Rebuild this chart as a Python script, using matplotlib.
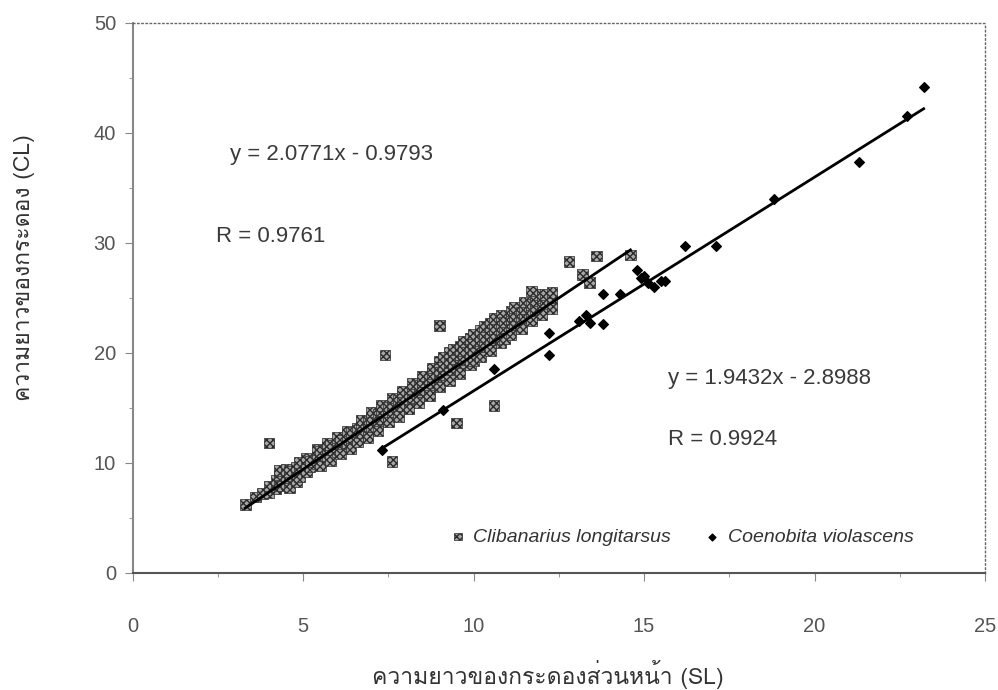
import numpy as np
import matplotlib
matplotlib.use('Agg')
import matplotlib.pyplot as plt
from matplotlib import font_manager
from matplotlib.ft2font import FT2Font
from matplotlib.ticker import MultipleLocator

# Clibanarius longitarsus: shield length (SL) vs carapace length (CL)
cl_x = [3.3, 3.6, 3.8, 4.0, 4.0, 4.2, 4.2, 4.3, 4.3, 4.3,
        4.5, 4.5, 4.5, 4.6, 4.6, 4.6, 4.8, 4.8, 4.8, 4.9, 4.9, 4.9,
        5.1, 5.1, 5.1, 5.2, 5.2, 5.4, 5.4, 5.4, 5.5, 5.5, 5.5,
        5.7, 5.7, 5.7, 5.8, 5.8, 5.8, 6.0, 6.0, 6.0, 6.1, 6.1, 6.1,
        6.3, 6.3, 6.3, 6.4, 6.4, 6.4, 6.6, 6.6, 6.6, 6.7, 6.7, 6.7,
        6.9, 6.9, 6.9, 7.0, 7.0, 7.0, 7.2, 7.2, 7.2, 7.3, 7.3, 7.3,
        7.5, 7.5, 7.5, 7.6, 7.6, 7.6, 7.8, 7.8, 7.8, 7.9, 7.9, 7.9,
        8.1, 8.1, 8.1, 8.2, 8.2, 8.2, 8.4, 8.4, 8.4, 8.5, 8.5, 8.5,
        8.7, 8.7, 8.7, 8.8, 8.8, 8.8, 9.0, 9.0, 9.0, 9.0, 9.1, 9.1, 9.1,
        9.3, 9.3, 9.3, 9.3, 9.4, 9.4, 9.4, 9.6, 9.6, 9.6, 9.6, 9.7, 9.7, 9.7,
        9.9, 9.9, 9.9, 9.9, 10.0, 10.0, 10.0, 10.0, 10.2, 10.2, 10.2, 10.2,
        10.3, 10.3, 10.3, 10.5, 10.5, 10.5, 10.5, 10.6, 10.6, 10.6,
        10.8, 10.8, 10.8, 10.8, 10.9, 10.9, 10.9, 11.1, 11.1, 11.1, 11.1,
        11.2, 11.2, 11.2, 11.4, 11.4, 11.4, 11.5, 11.5, 11.5, 11.7, 11.7, 11.7,
        11.8, 11.8, 11.8, 12.0, 12.0, 12.0, 12.1, 12.1, 12.3, 12.3, 12.3,
        4.0, 7.4, 7.6, 9.0, 9.5, 10.6, 11.7, 12.8, 13.6, 14.6, 13.2, 13.4]
cl_y = [6.2, 6.9, 7.2, 7.3, 7.9, 7.6, 8.4, 7.9, 8.9, 9.3,
        8.1, 8.6, 9.4, 8.8, 9.2, 7.7, 9.0, 9.6, 8.3, 9.3, 10.0, 8.7,
        9.2, 9.8, 10.4, 9.6, 10.1, 9.9, 10.5, 11.2, 10.3, 11.0, 9.7,
        10.6, 11.4, 11.8, 10.9, 11.6, 10.2, 11.0, 11.7, 12.3, 11.4, 12.0, 10.8,
        11.8, 12.4, 12.9, 12.0, 12.8, 11.3, 12.4, 13.1, 11.9, 12.7, 13.4, 13.9,
        13.0, 13.8, 12.3, 13.3, 14.0, 14.6, 13.6, 14.4, 12.9, 14.0, 14.7, 15.2,
        14.3, 15.0, 13.7, 14.6, 15.3, 15.9, 14.9, 15.7, 14.2, 15.2, 16.0, 16.5,
        15.6, 16.3, 14.9, 15.9, 16.7, 17.2, 16.2, 17.0, 15.5, 16.6, 17.4, 17.9,
        16.8, 17.6, 16.1, 17.3, 18.1, 18.6, 17.5, 18.4, 16.9, 19.2, 18.0, 18.8, 19.6,
        18.2, 19.1, 17.5, 20.0, 18.7, 19.5, 20.3, 18.9, 19.8, 18.1, 20.6, 19.4, 20.2, 21.0,
        19.6, 20.5, 18.9, 21.3, 20.1, 20.9, 21.7, 19.3, 20.3, 21.1, 19.6, 22.0,
        20.7, 21.5, 22.4, 21.0, 21.8, 20.2, 22.7, 21.4, 22.2, 23.1,
        21.6, 22.5, 20.9, 23.4, 22.0, 22.8, 21.3, 22.3, 23.1, 21.6, 23.8,
        22.7, 23.4, 24.1, 22.9, 23.7, 22.2, 23.3, 24.0, 24.6, 23.6, 24.4, 22.9,
        23.9, 24.7, 25.3, 24.2, 25.0, 23.5, 24.6, 25.3, 24.8, 25.5, 24.0,
        11.8, 19.8, 10.1, 22.5, 13.6, 15.2, 25.6, 28.3, 28.8, 28.9, 27.1, 26.4]

# Coenobita violascens
cv_x = [7.3, 9.1, 10.6, 12.2, 12.2, 13.1, 13.3, 13.4, 13.8, 13.8, 14.3,
        14.8, 14.9, 15.0, 15.1, 15.3, 15.5, 15.6, 16.2, 17.1, 18.8, 21.3, 22.7, 23.2]
cv_y = [11.2, 14.8, 18.5, 19.8, 21.8, 22.9, 23.4, 22.7, 22.6, 25.3, 25.3,
        27.5, 26.8, 27.0, 26.3, 26.0, 26.5, 26.5, 29.7, 29.7, 34.0, 37.3, 41.5, 44.2]

# trendline coefficients shown on the chart
cl_fit = (2.0771, -0.9793)
cv_fit = (1.9432, -2.8988)
cl_r = 0.9761
cv_r = 0.9924


def thai_font():
    found = []
    for f in font_manager.fontManager.ttflist:
        try:
            if FT2Font(f.fname).get_char_index(ord('ค')):
                found.append(f)
        except Exception:
            pass
    found.sort(key=lambda f: (f.style != 'normal', abs(f.weight - 400) if isinstance(f.weight, int) else 0))
    return found[0].name if found else 'DejaVu Sans'


latin = 'Liberation Sans'
thai = thai_font()
plt.rcParams['font.family'] = [latin, 'DejaVu Sans']

fig = plt.figure(figsize=(9.98, 6.90), dpi=100)
ax = fig.add_axes([0.133, 0.170, 0.854, 0.797])

ax.scatter(cl_x, cl_y, marker='s', s=58, facecolor='#a8a8a8', edgecolor='#2a2a2a',
           hatch='xxxxx', linewidths=0.5, zorder=2, label='Clibanarius longitarsus')
ax.scatter(cv_x, cv_y, marker='D', s=24, color='black', zorder=3,
           label='Coenobita violascens')

xs = np.array([min(cl_x), max(cl_x)])
ax.plot(xs, cl_fit[0] * xs + cl_fit[1], color='black', lw=2, zorder=4)
xs = np.array([min(cv_x), max(cv_x)])
ax.plot(xs, cv_fit[0] * xs + cv_fit[1], color='black', lw=2, zorder=4)

tkw = dict(fontsize=16, color='#3a3a3a', va='center', ha='left')
ax.text(2.85, 38.0, f'y = {cl_fit[0]}x - {abs(cl_fit[1])}', **tkw)
ax.text(2.45, 30.6, f'R = {cl_r}', **tkw)
ax.text(15.7, 17.7, f'y = {cv_fit[0]}x - {abs(cv_fit[1])}', **tkw)
ax.text(15.7, 12.1, f'R = {cv_r}', **tkw)

ax.set_xlim(0, 25)
ax.set_ylim(0, 50)
ax.xaxis.set_major_locator(MultipleLocator(5))
ax.xaxis.set_minor_locator(MultipleLocator(2.5))
ax.yaxis.set_major_locator(MultipleLocator(10))
ax.yaxis.set_minor_locator(MultipleLocator(5))
ax.tick_params(axis='both', which='major', labelsize=14.5, labelcolor='#555555',
               color='#888888', length=6, direction='out')
ax.tick_params(axis='both', which='minor', color='#888888', length=3)
ax.tick_params(axis='x', which='major', pad=26)
ax.tick_params(axis='y', which='major', pad=6)

for s in ['top', 'right']:
    ax.spines[s].set_linestyle((0, (1, 2)))
    ax.spines[s].set_color('#666666')
    ax.spines[s].set_linewidth(1)
ax.spines['left'].set_color('#888888')
ax.spines['left'].set_linewidth(1.5)
ax.spines['bottom'].set_color('#555555')
ax.spines['bottom'].set_linewidth(1.5)

leg = ax.legend(loc='center', bbox_to_anchor=(0.643, 0.065), ncol=2, frameon=False,
                prop={'family': latin, 'style': 'italic', 'size': 14},
                handlelength=1.0, handletextpad=0.3, columnspacing=1.6, markerscale=0.7)
for t in leg.get_texts():
    t.set_color('#333333')

fig.text(548 / 998, 1 - 684 / 690, 'ความยาวของกระดองส่วนหน้า (SL)', family=[thai, latin],
         fontsize=16.5, color='#333333', ha='center', va='baseline')
fig.text(25 / 998, 1 - 268 / 690, 'ความยาวของกระดอง (CL)', family=[thai, latin],
         fontsize=16.5, color='#333333', ha='center', va='center', rotation=90)

fig.savefig('out.png', dpi=100, facecolor='white')
